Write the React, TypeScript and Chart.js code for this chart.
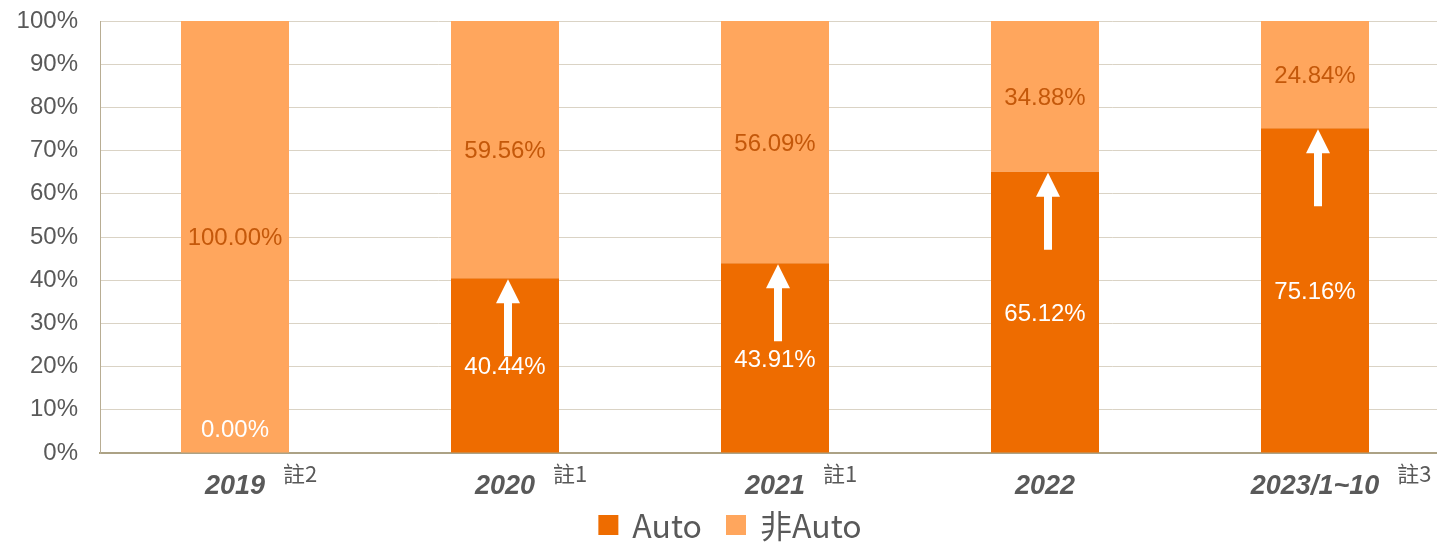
import React, { useEffect, useRef } from "react";
import { Chart, registerables } from "chart.js";

Chart.register(...registerables);

const categories = ["2019", "2020", "2021", "2022", "2023/1~10"];
const notes = ["註2", "註1", "註1", "", "註3"];
const autoValues = [0, 40.44, 43.91, 65.12, 75.16];
const nonAutoValues = [100, 59.56, 56.09, 34.88, 24.84];
const seriesNames = ["Auto", "非Auto"];
const yTicks = [0, 10, 20, 30, 40, 50, 60, 70, 80, 90, 100];

const AUTO_COLOR = "#EE6C00";
const NON_AUTO_COLOR = "#FFA65D";
const TEXT_GRAY = "#595959";
const LATIN = "'Liberation Sans', Arial, sans-serif";
const CJK = "'Noto Sans CJK TC', 'Noto Sans', sans-serif";

const decorPlugin = {
  id: "decor",
  afterDatasetsDraw(chart: any) {
    const ctx = chart.ctx;
    const xScale = chart.scales.x;
    // arrows on Auto bars
    const autoMeta = chart.getDatasetMeta(0);
    ctx.save();
    ctx.fillStyle = "#FFFFFF";
    autoMeta.data.forEach((el: any, i: number) => {
      if (!autoValues[i]) return;
      const cx = el.x + 3;
      const tip = el.y + 1;
      const len = 77;
      const headH = 24;
      const headW = 24;
      const shaftW = 8;
      ctx.beginPath();
      ctx.moveTo(cx, tip);
      ctx.lineTo(cx + headW / 2, tip + headH);
      ctx.lineTo(cx + shaftW / 2, tip + headH);
      ctx.lineTo(cx + shaftW / 2, tip + len);
      ctx.lineTo(cx - shaftW / 2, tip + len);
      ctx.lineTo(cx - shaftW / 2, tip + headH);
      ctx.lineTo(cx - headW / 2, tip + headH);
      ctx.closePath();
      ctx.fill();
    });
    ctx.restore();

    // value labels
    ctx.save();
    ctx.font = `24px ${LATIN}`;
    ctx.textAlign = "center";
    ctx.textBaseline = "middle";
    chart.data.datasets.forEach((ds: any, di: number) => {
      const meta = chart.getDatasetMeta(di);
      ctx.fillStyle = di === 0 ? "#FFFFFF" : "#C4580A";
      meta.data.forEach((el: any, i: number) => {
        const v = ds.data[i];
        let y = (el.y + el.base) / 2 + 2;
        if (!v) y = el.base - 23;
        ctx.fillText(v.toFixed(2) + "%", el.x, y);
      });
    });
    ctx.restore();

    // x labels with notes
    ctx.save();
    categories.forEach((c, i) => {
      const x = xScale.getPixelForValue(i);
      ctx.font = `italic bold 27px ${LATIN}`;
      ctx.fillStyle = TEXT_GRAY;
      ctx.textAlign = "center";
      ctx.textBaseline = "middle";
      ctx.fillText(c, x, 487);
      const w = ctx.measureText(c).width;
      if (notes[i]) {
        ctx.font = `22px ${CJK}`;
        ctx.textAlign = "left";
        ctx.fillText(notes[i], x + w / 2 + 18, 474);
      }
    });
    ctx.restore();

    // legend
    ctx.save();
    ctx.font = `32px ${CJK}`;
    ctx.textBaseline = "middle";
    const box = 20;
    const gapBoxText = 14;
    const gapItems = 24;
    const colors = [AUTO_COLOR, NON_AUTO_COLOR];
    const widths = seriesNames.map((n) => box + gapBoxText + ctx.measureText(n).width);
    const total = widths.reduce((a, b) => a + b, 0) + gapItems * (seriesNames.length - 1);
    let lx = chart.width / 2 - total / 2;
    const ly = 525;
    seriesNames.forEach((n, i) => {
      ctx.fillStyle = colors[i];
      ctx.fillRect(lx, ly - box / 2, box, box);
      ctx.fillStyle = TEXT_GRAY;
      ctx.textAlign = "left";
      ctx.fillText(n, lx + box + gapBoxText, ly + 1);
      lx += widths[i] + gapItems;
    });
    ctx.restore();
  },
};

export default function App() {
  const canvasRef = useRef<HTMLCanvasElement | null>(null);

  useEffect(() => {
    document.body.style.margin = "0";
    const canvas = canvasRef.current;
    if (!canvas) return;
    const chart = new Chart(canvas, {
      type: "bar",
      data: {
        labels: categories,
        datasets: [
          {
            label: seriesNames[0],
            data: autoValues,
            backgroundColor: AUTO_COLOR,
            barPercentage: 0.4,
            categoryPercentage: 1,
          },
          {
            label: seriesNames[1],
            data: nonAutoValues,
            backgroundColor: NON_AUTO_COLOR,
            barPercentage: 0.4,
            categoryPercentage: 1,
          },
        ],
      },
      options: {
        responsive: false,
        animation: false,
        devicePixelRatio: 1,
        layout: { padding: { top: 21, right: 10, left: 0, bottom: 0 } },
        plugins: {
          legend: { display: false },
          tooltip: { enabled: false },
          title: { display: false },
        },
        scales: {
          x: {
            stacked: true,
            grid: { display: false },
            border: { display: true, color: "#ACA285", width: 2 },
            ticks: { display: false },
            afterFit(scale: any) {
              scale.height = 89;
              scale.paddingLeft = 0;
              scale.paddingRight = 0;
              scale.paddingTop = 0;
              scale.paddingBottom = 0;
            },
          },
          y: {
            stacked: true,
            min: 0,
            max: 100,
            afterBuildTicks(scale: any) {
              scale.ticks = yTicks.map((v) => ({ value: v }));
            },
            grid: { color: "#DAD3C5", lineWidth: 1, drawTicks: false },
            border: { display: true, color: "#B8AD93", width: 1 },
            ticks: {
              padding: 22,
              color: TEXT_GRAY,
              font: { family: LATIN, size: 24 },
              callback: (v: any) => v + "%",
            },
            afterFit(scale: any) {
              scale.width = 100;
              scale.paddingTop = 0;
              scale.paddingBottom = 0;
              scale.paddingLeft = 0;
              scale.paddingRight = 0;
            },
          },
        },
      },
      plugins: [decorPlugin],
    });
    return () => chart.destroy();
  }, []);

  return (
    <div style={{ position: "absolute", left: 0, top: 0, width: 1437, height: 542, overflow: "hidden", background: "#fff" }}>
      <canvas ref={canvasRef} width={1460} height={542} style={{ width: 1460, height: 542, display: "block" }} />
    </div>
  );
}
